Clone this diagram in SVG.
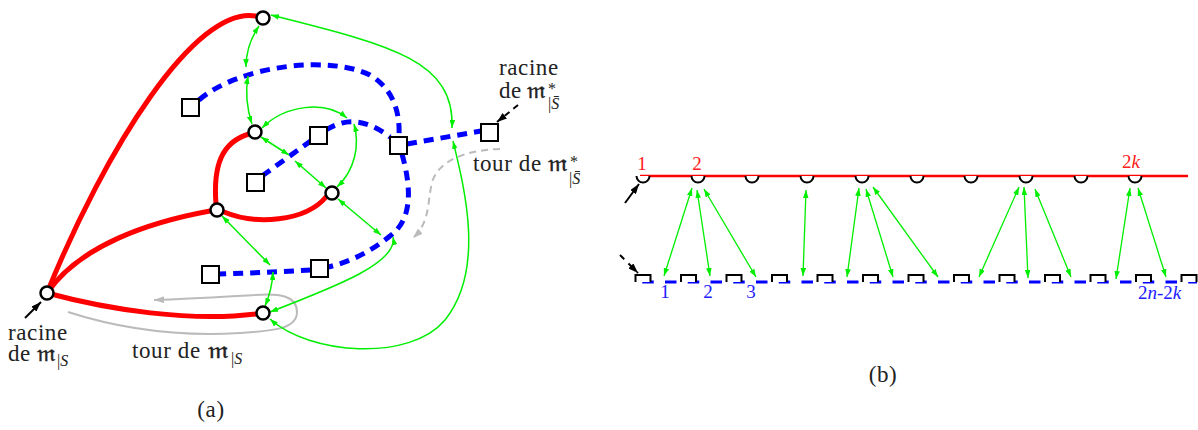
<svg xmlns="http://www.w3.org/2000/svg" width="1198" height="430" viewBox="0 0 1198 430">
<defs>
<style>
.red{fill:none;stroke:#ff0000;stroke-width:5;stroke-linecap:round}
.blue{fill:none;stroke:#0000ff;stroke-width:5;stroke-dasharray:10 7}
.grn{fill:none;stroke:#00ee00;stroke-width:1.5;marker-start:url(#ga);marker-end:url(#ga)}
.grnb{fill:none;stroke:#00ee00;stroke-width:1.3;marker-start:url(#ga);marker-end:url(#ga)}
.node circle{fill:#fff;stroke:#000;stroke-width:2.5}
.node rect{fill:#fff;stroke:#000;stroke-width:2}
.t{font-family:"Liberation Serif",serif;font-size:23px;letter-spacing:0.6px;fill:#222}
.fr{font-family:"DejaVu Serif","DejaVu Sans","Noto Sans",serif;font-size:22px;fill:#222;stroke:#222;stroke-width:0.4}
.sub{font-family:"Liberation Serif",serif;font-size:16px;fill:#222}
.semi{fill:#fff;stroke:#000;stroke-width:2}
.sq{fill:#fff;stroke:#000;stroke-width:2}
.lr{font-family:"Liberation Serif",serif;font-size:19px;fill:#ff2020}
.lb{font-family:"Liberation Serif",serif;font-size:19px;fill:#2020ff}
</style>
<marker id="ga" viewBox="0 0 10 7" refX="10" refY="3.5" markerWidth="8" markerHeight="5.6" markerUnits="userSpaceOnUse" orient="auto-start-reverse"><path d="M0,0 L10,3.5 L0,7 z" fill="#00ee00"/></marker>
<marker id="ka" viewBox="0 0 10 7" refX="10" refY="3.5" markerWidth="10" markerHeight="7" markerUnits="userSpaceOnUse" orient="auto"><path d="M0,0 L10,3.5 L0,7 z" fill="#000"/></marker>
<marker id="gy" viewBox="0 0 10 7" refX="10" refY="3.5" markerWidth="10" markerHeight="7" markerUnits="userSpaceOnUse" orient="auto"><path d="M0,0 L10,3.5 L0,7 z" fill="#bbbbbb"/></marker>
</defs>

<g id="connectors">
<path d="M68,312 C130,332 190,336 240,333 C270,331 297,330 297,312 C297,296 280,293 255,295 C220,297 190,299 154,300" fill="none" stroke="#bbbbbb" stroke-width="2" marker-end="url(#gy)"/>
<path d="M500,149 C470,150 440,158 432,182 C427,205 430,222 413,238" fill="none" stroke="#bbbbbb" stroke-width="2" stroke-dasharray="7 5" marker-end="url(#gy)"/>
<path class="red" d="M47,293 C105,150 195,5 256,16"/>
<path class="red" d="M249,134 C222,142 213,165 216,204"/>
<path class="red" d="M210,211 C150,222 80,245 47,293"/>
<path class="red" d="M224,212 C255,225 305,222 326,197"/>
<path class="red" d="M47,293 C110,310 190,322 256,314"/>
<path class="blue" d="M199,100 C240,65 330,55 370,75 C395,90 400,115 399,136"/>
<path class="blue" d="M402,154 C412,190 412,220 390,236 C370,252 350,262 328,267"/>
<path class="blue" d="M311,270 C280,272 250,273 219,274"/>
<path class="blue" d="M262,176 L312,140"/>
<path class="blue" d="M326,130 C345,118 365,118 390,137"/>
<path class="blue" d="M407,144 L481,131"/>
<path class="grn" d="M259,26 Q246,45 246,67"/>
<path class="grn" d="M248,76 Q244,100 252,124"/>
<path class="grn" d="M271,15 C390,45 455,60 452,128"/>
<path class="grn" d="M453,141 C465,190 485,270 445,320 C410,362 310,355 270,319"/>
<path class="grn" d="M262,128 C285,105 325,100 347,118"/>
<path class="grn" d="M354,124 C360,145 355,170 337,187"/>
<path class="grn" d="M261,137 L289,155"/>
<path class="grn" d="M295,161 L326,188"/>
<path class="grn" d="M338,199 L381,235"/>
<path class="grn" d="M393,237 C398,262 340,285 270,312"/>
<path class="grn" d="M222,216 L270,265"/>
<path class="grn" d="M273,272 Q272,290 265,306"/>
<path d="M25,318 L41,302" stroke="#000" stroke-width="2" marker-end="url(#ka)"/>
<path d="M518,105 L497,122" stroke="#000" stroke-width="2" stroke-dasharray="6 5" marker-end="url(#ka)"/>
<path d="M640,176 H1188" stroke="#ff0000" stroke-width="2.3"/>
<path d="M642.25,282 H1197" stroke="#0000ff" stroke-width="3" stroke-dasharray="11.5 11.25"/>
<path d="M625,203 L639,184" stroke="#000" stroke-width="2" marker-end="url(#ka)"/>
<path d="M620,255 L638,273" stroke="#000" stroke-width="2" stroke-dasharray="6 6" marker-end="url(#ka)"/>
<path class="grnb" d="M692,188 L664,276"/>
<path class="grnb" d="M697,190 L710,276"/>
<path class="grnb" d="M704,189 L756,277"/>
<path class="grnb" d="M806,190 L803,276"/>
<path class="grnb" d="M859,188 L847,277"/>
<path class="grnb" d="M866,189 L893,277"/>
<path class="grnb" d="M873,187 L938,277"/>
<path class="grnb" d="M1019,187 L979,277"/>
<path class="grnb" d="M1024,187 L1028,278"/>
<path class="grnb" d="M1035,189 L1071,277"/>
<path class="grnb" d="M1130,188 L1116,279"/>
<path class="grnb" d="M1138,188 L1166,277"/>
</g>

<g id="nodes-a">
<g id="vA" class="node"><circle cx="263" cy="18" r="6.5"/></g>
<g id="vB" class="node"><circle cx="255" cy="132" r="6.5"/></g>
<g id="vC" class="node"><circle cx="217" cy="210" r="6.5"/></g>
<g id="vD" class="node"><circle cx="332" cy="193" r="6.5"/></g>
<g id="vE" class="node"><circle cx="263" cy="313" r="6.5"/></g>
<g id="vR" class="node"><circle cx="47" cy="293" r="6.5"/></g>
<g id="f1" class="node"><rect x="182" y="99" width="17" height="17"/></g>
<g id="f2" class="node"><rect x="247" y="174" width="17" height="17"/></g>
<g id="f3" class="node"><rect x="310" y="127" width="17" height="17"/></g>
<g id="f4" class="node"><rect x="390" y="137" width="17" height="17"/></g>
<g id="f5" class="node"><rect x="481" y="124" width="17" height="17"/></g>
<g id="f6" class="node"><rect x="202" y="266" width="17" height="17"/></g>
<g id="f7" class="node"><rect x="311" y="260" width="17" height="17"/></g>
</g>

<g id="nodes-b">
<path class="semi" d="M636.5,176 A6.5,6.5 0 0 0 649.5,176"/>
<path class="semi" d="M691.5,176 A6.5,6.5 0 0 0 704.5,176"/>
<path class="semi" d="M745.5,176 A6.5,6.5 0 0 0 758.5,176"/>
<path class="semi" d="M800.5,176 A6.5,6.5 0 0 0 813.5,176"/>
<path class="semi" d="M855.5,176 A6.5,6.5 0 0 0 868.5,176"/>
<path class="semi" d="M910.5,176 A6.5,6.5 0 0 0 923.5,176"/>
<path class="semi" d="M964.5,176 A6.5,6.5 0 0 0 977.5,176"/>
<path class="semi" d="M1019.5,176 A6.5,6.5 0 0 0 1032.5,176"/>
<path class="semi" d="M1074.5,176 A6.5,6.5 0 0 0 1087.5,176"/>
<path class="semi" d="M1128.5,176 A6.5,6.5 0 0 0 1141.5,176"/>
<path class="sq" d="M635.5,282 V275 H650.5 V282"/>
<path class="sq" d="M681,282 V275 H696 V282"/>
<path class="sq" d="M726.5,282 V275 H741.5 V282"/>
<path class="sq" d="M772,282 V275 H787 V282"/>
<path class="sq" d="M817.5,282 V275 H832.5 V282"/>
<path class="sq" d="M863,282 V275 H878 V282"/>
<path class="sq" d="M908.5,282 V275 H923.5 V282"/>
<path class="sq" d="M954,282 V275 H969 V282"/>
<path class="sq" d="M999.5,282 V275 H1014.5 V282"/>
<path class="sq" d="M1045,282 V275 H1060 V282"/>
<path class="sq" d="M1090.5,282 V275 H1105.5 V282"/>
<path class="sq" d="M1136,282 V275 H1151 V282"/>
<path class="sq" d="M1181.5,282 V275 H1196.5 V282"/>
</g>

<g id="labels">
<text class="t" x="8" y="340">racine</text>
<text class="t" x="8" y="361">de</text>
<text class="fr" x="37" y="361" textLength="19" lengthAdjust="spacingAndGlyphs">𝔪</text>
<text class="sub" x="57" y="366">|<tspan font-style="italic">S</tspan></text>

<text class="t" x="132" y="358">tour de</text>
<text class="fr" x="208" y="358" textLength="21" lengthAdjust="spacingAndGlyphs">𝔪</text>
<text class="sub" x="231" y="364">|<tspan font-style="italic">S</tspan></text>

<text class="t" x="499" y="75">racine</text>
<text class="t" x="499" y="98">de</text>
<text class="fr" x="527" y="98" textLength="19" lengthAdjust="spacingAndGlyphs">𝔪</text>
<text class="sub" x="548" y="94">*</text>
<text class="sub" x="548" y="109">|<tspan font-style="italic">S̄</tspan></text>

<text class="t" x="473" y="171">tour de</text>
<text class="fr" x="548" y="171" textLength="20" lengthAdjust="spacingAndGlyphs">𝔪</text>
<text class="sub" x="570" y="167">*</text>
<text class="sub" x="569" y="184">|<tspan font-style="italic">S̄</tspan></text>

<text class="t" x="211" y="417" text-anchor="middle">(a)</text>
<text class="t" x="883" y="382" text-anchor="middle">(b)</text>

<text class="lr" x="642" y="170" text-anchor="middle">1</text>
<text class="lr" x="697" y="170" text-anchor="middle">2</text>
<text class="lr" x="1122" y="168">2<tspan font-style="italic">k</tspan></text>
<text class="lb" x="665" y="298" text-anchor="middle">1</text>
<text class="lb" x="708" y="298" text-anchor="middle">2</text>
<text class="lb" x="751" y="298" text-anchor="middle">3</text>
<text class="lb" x="1138" y="299">2<tspan font-style="italic">n</tspan>-2<tspan font-style="italic">k</tspan></text>
</g>
</svg>
